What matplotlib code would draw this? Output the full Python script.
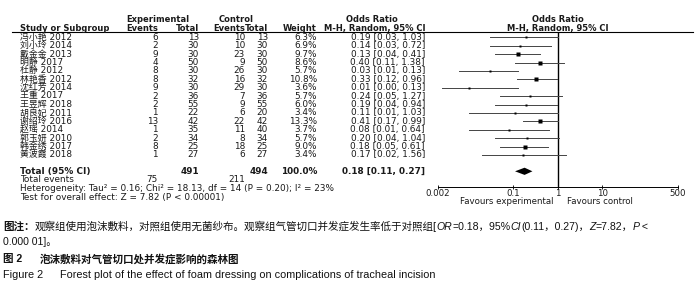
import numpy as np
import matplotlib
matplotlib.use("Agg")
import matplotlib.pyplot as plt

plt.rcParams['font.family'] = ['DejaVu Sans', 'Noto Sans CJK SC']

# study rows
studies = ['冯小艳 2012', '刘小玲 2014', '戴金金 2013', '明静 2017', '杜静 2012',
           '林艳香 2012', '沈红芳 2014', '王重 2017', '王昱辉 2018', '胡良妃 2011',
           '谢绍玲 2016', '赵瑶 2014', '郭玉妍 2010', '韩金绣 2017', '黄波霞 2018']
exp_events = [6, 2, 9, 4, 8, 8, 9, 2, 2, 1, 13, 1, 2, 8, 1]
exp_total = [13, 30, 30, 50, 30, 32, 30, 36, 55, 22, 42, 35, 34, 25, 27]
ctl_events = [10, 10, 23, 9, 26, 16, 29, 7, 9, 6, 22, 11, 8, 18, 6]
ctl_total = [13, 30, 30, 50, 30, 32, 30, 36, 55, 20, 42, 40, 34, 25, 27]
weights = [6.3, 6.9, 9.7, 8.6, 5.7, 10.8, 3.6, 5.7, 6.0, 3.4, 13.3, 3.7, 5.7, 9.0, 3.4]
odds = [0.19, 0.14, 0.13, 0.40, 0.03, 0.33, 0.01, 0.24, 0.19, 0.11, 0.41, 0.08, 0.20, 0.18, 0.17]
ci_low = [0.03, 0.03, 0.04, 0.11, 0.006, 0.12, 0.0025, 0.05, 0.04, 0.01, 0.17, 0.01, 0.04, 0.05, 0.02]
ci_high = [1.03, 0.72, 0.41, 1.38, 0.13, 0.96, 0.13, 1.27, 0.94, 1.03, 0.99, 0.64, 1.04, 0.61, 1.56]

total_exp, total_ctl = 491, 494
events_exp, events_ctl = 75, 211
pooled_or, pooled_lo, pooled_hi = 0.18, 0.11, 0.27

xticks = [0.002, 0.1, 1, 10, 500]
xtick_labels = ['0.002', '0.1', '1', '10', '500']

W, H = 700, 288
fig = plt.figure(figsize=(W / 100, H / 100), dpi=100)
ax = fig.add_axes([0, 0, 1, 1])
ax.set_xlim(0, W)
ax.set_ylim(H, 0)
ax.axis('off')

fs = 6.4
hs = 6.0
tc = '#1a1a1a'


def txt(x, y, s, ha='left', bold=False, size=None, **kw):
    if size is None:
        size = hs if bold else fs
    return ax.text(x, y, s, ha=ha, va='center', fontsize=size, color=tc,
                   fontweight='bold' if bold else 'normal', **kw)


# column anchors (px)
x_name, x_ee, x_et, x_ce, x_ct, x_w, x_or = 20, 158, 199, 245, 268, 317, 425

# headers
txt(158, 20, 'Experimental', ha='center', bold=True)
txt(236, 20, 'Control', ha='center', bold=True)
txt(372, 20, 'Odds Ratio', ha='center', bold=True)
txt(558, 20, 'Odds Ratio', ha='center', bold=True)
hy = 28.3
txt(x_name, hy, 'Study or Subgroup', bold=True)
txt(x_ee, hy, 'Events', ha='right', bold=True)
txt(x_et, hy, 'Total', ha='right', bold=True)
txt(x_ce, hy, 'Events', ha='right', bold=True)
txt(x_ct, hy, 'Total', ha='right', bold=True)
txt(x_w, hy, 'Weight', ha='right', bold=True)
txt(x_or, hy, 'M-H, Random, 95% CI', ha='right', bold=True)
txt(558, hy, 'M-H, Random, 95% CI', ha='center', bold=True)
ax.plot([12, 693], [31.7, 31.7], color='k', lw=0.8)

row_y = [37.3 + 8.4 * i for i in range(len(studies))]
for i, y in enumerate(row_y):
    txt(x_name, y, studies[i])
    txt(x_ee, y, str(exp_events[i]), ha='right')
    txt(x_et, y, str(exp_total[i]), ha='right')
    txt(x_ce, y, str(ctl_events[i]), ha='right')
    txt(x_ct, y, str(ctl_total[i]), ha='right')
    txt(x_w, y, f'{weights[i]:.1f}%', ha='right')
    txt(x_or, y, f'{odds[i]:.2f} [{ci_low[i]:.2f}, {ci_high[i]:.2f}]', ha='right')

ty = 171.3
txt(x_name, ty, 'Total (95% CI)', bold=True, size=fs)
txt(x_et, ty, str(total_exp), ha='right', bold=True, size=fs)
txt(x_ct, ty, str(total_ctl), ha='right', bold=True, size=fs)
txt(x_w, ty, '100.0%', ha='right', bold=True, size=fs)
txt(x_or, ty, f'{pooled_or:.2f} [{pooled_lo:.2f}, {pooled_hi:.2f}]', ha='right', bold=True, size=fs)
txt(x_name, 180, 'Total events')
txt(x_ee, 180, str(events_exp), ha='right')
txt(x_ce, 180, str(events_ctl), ha='right')
txt(x_name, 188.7, 'Heterogeneity: Tau² = 0.16; Chi² = 18.13, df = 14 (P = 0.20); I² = 23%')
txt(x_name, 197.4, 'Test for overall effect: Z = 7.82 (P < 0.00001)')

# forest panel, y in pixel units
fx0, fx1, fy0, fy1 = 437.5, 678, 31.7, 186.7
axf = fig.add_axes([fx0 / W, (H - fy1) / H, (fx1 - fx0) / W, (fy1 - fy0) / H])
axf.set_xscale('log')
axf.set_xlim(xticks[0], xticks[-1])
axf.set_ylim(fy1, fy0)
axf.patch.set_alpha(0)
for s in ['top', 'left', 'right']:
    axf.spines[s].set_visible(False)
axf.spines['bottom'].set_linewidth(0.7)
axf.set_yticks([])
axf.set_xticks(xticks)
axf.set_xticklabels(xtick_labels)
axf.minorticks_off()
axf.tick_params(axis='x', direction='inout', length=3.5, width=0.7, labelsize=6.2, pad=0, colors=tc)
axf.axvline(1, color='k', lw=1)

for i, y in enumerate(row_y):
    axf.plot([ci_low[i], ci_high[i]], [y, y], color='#444444', lw=0.7, clip_on=False)
    axf.plot(odds[i], y, 's', ms=0.8 * np.sqrt(weights[i]), color='k', mec='none')

axf.fill([pooled_lo, pooled_or, pooled_hi, pooled_or], [ty, ty - 3.6, ty, ty + 3.6],
         color='k', lw=0)

txt(553, 201.8, 'Favours experimental', ha='right', size=6.2)
txt(567, 201.8, 'Favours control', size=6.2)

# footnote with mixed fonts
fig.canvas.draw()
rend = fig.canvas.get_renderer()


def runs(x, y, parts, size):
    for s, style in parts:
        t = ax.text(x, y, s, ha='left', va='center', fontsize=size, color='#111111',
                    family=['Liberation Sans', 'Noto Sans CJK SC'],
                    fontweight='bold' if 'b' in style else 'normal',
                    fontstyle='italic' if 'i' in style else 'normal')
        x += t.get_window_extent(rend).width


cs = 7.6
runs(3, 226.5, [('图注：', 'b'),
                ('观察组使用泡沫敷料，对照组使用无菌纱布。观察组气管切口并发症发生率低于对照组[', ''),
                ('OR', 'i'), ('=0.18，95%', ''), ('CI', 'i'), ('(0.11，0.27)，', ''),
                ('Z', 'i'), ('=7.82，', ''), ('P', 'i'), (' <', '')], cs)
runs(3, 242, [('0.000 01]。', '')], cs)
runs(3, 259, [('图 2', 'b')], cs)
runs(40, 259, [('泡沫敷料对气管切口处并发症影响的森林图', 'b')], cs)
runs(3, 275, [('Figure 2', '')], 7.8)
runs(60, 275, [('Forest plot of the effect of foam dressing on complications of tracheal incision', '')], 7.8)

fig.savefig('out.png', dpi=100)
